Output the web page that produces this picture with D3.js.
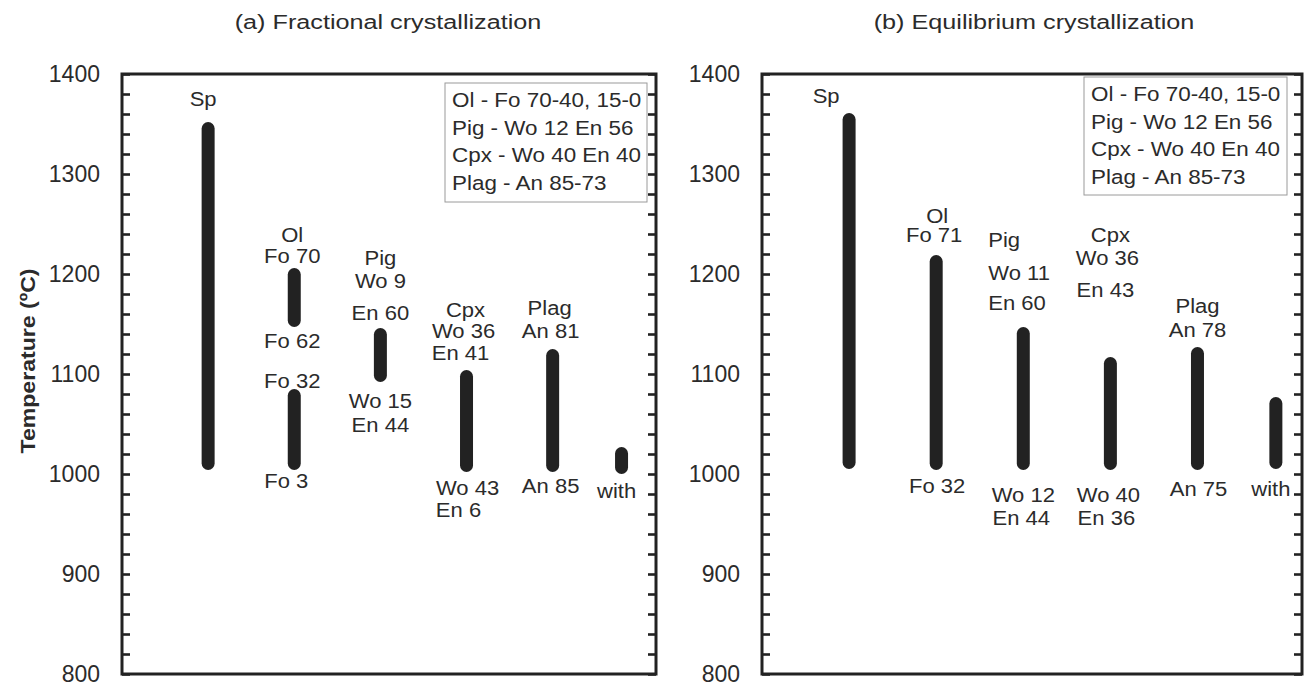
<!DOCTYPE html>
<html>
<head>
<meta charset="utf-8">
<script src="https://cdn.jsdelivr.net/npm/d3@7"></script>
<style>
  body { margin: 0; background: #fff; }
  svg { display: block; font-family: "Liberation Sans", Arial, Helvetica, sans-serif; }
</style>
</head>
<body>
<svg id="chart" width="1310" height="688"></svg>
<script>
// minerals shown in each panel (Ol is split in two in the fractional run)
var minerals = ["Sp", "Ol", "Pig", "Cpx", "Plag", "with"];

var fracMineral = ["Sp", "Ol", "Ol", "Pig", "Cpx", "Plag", "with"];
var fracTop = [1352, 1206, 1085, 1146, 1104, 1125, 1027];
var fracBottom = [1004, 1147, 1004, 1092, 1002, 1002, 1000];

var equilMineral = ["Sp", "Ol", "Pig", "Cpx", "Plag", "with"];
var equilTop = [1361, 1219, 1147, 1117, 1127, 1077];
var equilBottom = [1005, 1004, 1004, 1004, 1004, 1005];

// annotation text, mineral column and temperature level of the baseline
var fracLabelText = ["Sp", "Ol", "Fo 70", "Fo 62", "Fo 32", "Fo 3",
  "Pig", "Wo 9", "En 60", "Wo 15", "En 44",
  "Cpx", "Wo 36", "En 41", "Wo 43", "En 6",
  "Plag", "An 81", "An 85", "with"];
var fracLabelMineral = ["Sp", "Ol", "Ol", "Ol", "Ol", "Ol",
  "Pig", "Pig", "Pig", "Pig", "Pig",
  "Cpx", "Cpx", "Cpx", "Cpx", "Cpx",
  "Plag", "Plag", "Plag", "with"];
var fracLabelTemp = [1368, 1232, 1211, 1126, 1086, 986,
  1209, 1186, 1154, 1066, 1042,
  1157, 1136, 1114, 979, 957,
  1159, 1136, 981, 976];

var equilLabelText = ["Sp", "Ol", "Fo 71", "Fo 32",
  "Pig", "Wo 11", "En 60", "Wo 12", "En 44",
  "Cpx", "Wo 36", "En 43", "Wo 40", "En 36",
  "Plag", "An 78", "An 75", "with"];
var equilLabelMineral = ["Sp", "Ol", "Ol", "Ol",
  "Pig", "Pig", "Pig", "Pig", "Pig",
  "Cpx", "Cpx", "Cpx", "Cpx", "Cpx",
  "Plag", "Plag", "Plag", "with"];
var equilLabelTemp = [1371, 1251, 1232, 981,
  1227, 1194, 1164, 972, 949,
  1232, 1209, 1177, 972, 949,
  1161, 1137, 978, 978];

var legendLines = ["Ol - Fo 70-40, 15-0", "Pig - Wo 12 En 56", "Cpx - Wo 40 En 40", "Plag - An 85-73"];
var tempTicks = d3.range(800, 1401, 20);

// nudges for the annotations (pixels), same order as the label arrays
var fracLabelDx = [-5, -2, -2, -2, -2, -8, 0, 0, 0, 0, 0, -1, -3, -6, 1, -8, -3, -2, -2, -5];
var equilLabelDx = [-23, 1, -2, 1, -35, -35, -35, 0, -2, 0, -3, -5, -2, -4, 0, 0, 1, -5];
var equilLabelAnchor = ["middle", "middle", "middle", "middle", "start", "start", "start", "middle", "middle",
  "middle", "middle", "middle", "middle", "middle", "middle", "middle", "middle", "middle"];

var svg = d3.select("#chart");
var ink = "#222";
var textInk = "#2b2b2b";
var stretch = 1.13;

var y = d3.scaleLinear().domain([800, 1400]).range([674, 74]);

// text in the figure is a little wider than Liberation Sans, so stretch it
var wideText = function(g, str, x, yy, size, anchor, k) {
  return g.append("text")
    .attr("transform", "translate(" + x + "," + yy + ") scale(" + (k || stretch) + ",1)")
    .attr("text-anchor", anchor || "middle")
    .attr("font-size", size)
    .attr("fill", textInk)
    .text(str);
};

var drawPanel = function(opt) {
  var g = svg.append("g");

  var x = d3.scaleLinear().domain([0, 6.2]).range([opt.left, opt.right]);
  var slot = d3.scaleOrdinal().domain(minerals).range(opt.slots);
  var cx = function(m) { return x(slot(m)); };

  // ticks on both sides, pointing inward
  var axL = g.append("g")
    .attr("transform", "translate(" + opt.left + ",0)")
    .call(d3.axisLeft(y).tickValues(tempTicks).tickSizeInner(-8).tickSizeOuter(0).tickPadding(22)
      .tickFormat(function(d) { return d % 100 === 0 ? d : ""; }));
  axL.select(".domain").remove();
  axL.selectAll(".tick line").attr("stroke", ink).attr("stroke-width", 2.6);
  axL.selectAll(".tick text")
    .attr("font-size", 23)
    .attr("fill", textInk)
    .attr("font-family", "\"Liberation Sans\", Arial, sans-serif");

  var axR = g.append("g")
    .attr("transform", "translate(" + opt.right + ",0)")
    .call(d3.axisRight(y).tickValues(tempTicks).tickSizeInner(-8).tickSizeOuter(0).tickFormat(""));
  axR.select(".domain").remove();
  axR.selectAll(".tick line").attr("stroke", ink).attr("stroke-width", 2.6);

  g.append("rect")
    .attr("x", opt.left)
    .attr("y", y(1400))
    .attr("width", opt.right - opt.left)
    .attr("height", y(800) - y(1400))
    .attr("fill", "none")
    .attr("stroke", ink)
    .attr("stroke-width", 3);

  // crystallization ranges
  var barW = 13;
  g.selectAll("rect.bar")
    .data(opt.mineral)
    .enter().append("rect")
    .attr("class", "bar")
    .attr("x", function(d) { return cx(d) - barW / 2; })
    .attr("y", function(d, i) { return y(opt.top[i]); })
    .attr("width", barW)
    .attr("height", function(d, i) { return y(opt.bottom[i]) - y(opt.top[i]); })
    .attr("rx", barW / 2)
    .attr("fill", ink);

  opt.labelText.forEach(function(t, i) {
    var anchor = opt.labelAnchor ? opt.labelAnchor[i] : "middle";
    wideText(g, t, cx(opt.labelMineral[i]) + opt.labelDx[i], y(opt.labelTemp[i]), 19.5, anchor);
  });

  // composition key
  var lg = opt.legend;
  g.append("rect")
    .attr("x", lg.x)
    .attr("y", lg.y)
    .attr("width", lg.w)
    .attr("height", lg.h)
    .attr("fill", "#fff")
    .attr("stroke", "#9a9a9a")
    .attr("stroke-width", 1);
  legendLines.forEach(function(t, i) {
    wideText(g, t, lg.x + 7, lg.y + 24 + i * 27.5, 19.5, "start", 1.15);
  });

  wideText(g, opt.title, opt.titleX, 29, 21, "middle", 1.2);
};

drawPanel({
  left: 122, right: 656,
  slots: [1, 2, 3, 4, 5, 5.8],
  mineral: fracMineral, top: fracTop, bottom: fracBottom,
  labelText: fracLabelText, labelMineral: fracLabelMineral, labelTemp: fracLabelTemp, labelDx: fracLabelDx,
  legend: {x: 445, y: 83, w: 202, h: 119},
  title: "(a) Fractional crystallization", titleX: 388
});

drawPanel({
  left: 762, right: 1302,
  slots: [1, 2, 3, 4, 5, 5.9],
  mineral: equilMineral, top: equilTop, bottom: equilBottom,
  labelText: equilLabelText, labelMineral: equilLabelMineral, labelTemp: equilLabelTemp, labelDx: equilLabelDx,
  labelAnchor: equilLabelAnchor,
  legend: {x: 1084, y: 77, w: 203, h: 118},
  title: "(b) Equilibrium crystallization", titleX: 1034
});

svg.append("text")
  .attr("transform", "translate(35,361) rotate(-90) scale(1.1,1)")
  .attr("text-anchor", "middle")
  .attr("font-size", 21)
  .attr("font-weight", "bold")
  .attr("fill", textInk)
  .text("Temperature (ºC)");
</script>
</body>
</html>
